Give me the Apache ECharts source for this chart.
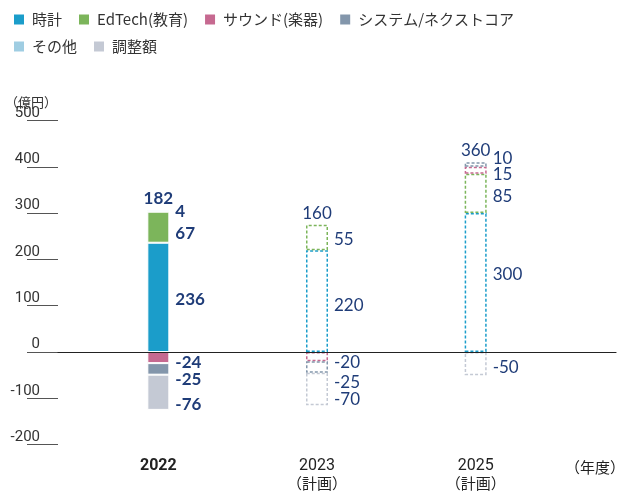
<!DOCTYPE html>
<html>
<head>
<meta charset="utf-8">
<script src="https://cdn.jsdelivr.net/npm/echarts@6/dist/echarts.min.js"></script>
<style>
  html, body { margin: 0; padding: 0; background: #fff; }
  #chart { width: 630px; height: 497px; }
</style>
</head>
<body>
<div id="chart"></div>
<script>
// Fiscal years and their axis labels
var years = ['2022', '2023', '2025'];
var yearLabels = ['2022', '2023\n（計画）', '2025\n（計画）'];
var planned = [false, true, true];

// Segment values (億円)
var watch  = [236, 220, 300];
var edtech = [67, 55, 85];
var sound  = [-24, -20, 15];
var system = [-25, -25, 10];
var other  = [4, '-', '-'];
var adjust = [-76, -70, -50];
var totals = [182, 160, 360];

// Value-axis ticks
var yTicks = [-200, -100, 0, 100, 200, 300, 400, 500];

var segments = [
  { name: '時計',                  data: watch,  color: '#1b9dca', dy: [2, 4, -8] },
  { name: 'EdTech(教育)',          data: edtech, color: '#7cb55b', dy: [6, 2, 3] },
  { name: 'サウンド(楽器)',        data: sound,  color: '#c66990', dy: [5, 6, 4] },
  { name: 'システム/ネクストコア', data: system, color: '#8396ab', dy: [11, 15, -6] },
  { name: 'その他',                data: other,  color: '#9fcde2', dy: [1, 0, 0] },
  { name: '調整額',                data: adjust, color: '#c4c9d4', dy: [12, 10, 4] }
];

var NAVY = '#1f3c78';
var FONT = 'Lato, "Noto Sans CJK JP", sans-serif';
var JP = '"Noto Sans CJK JP", sans-serif';

var series = segments.map(function (s) {
  return {
    name: s.name,
    type: 'bar',
    stack: 'total',
    xAxisIndex: 0,
    yAxisIndex: 0,
    barWidth: 22,
    itemStyle: { color: s.color },
    data: s.data.map(function (v, i) {
      var item = {
        value: v,
        label: {
          offset: [0, s.dy[i]],
          fontWeight: planned[i] ? 'normal' : 'bold'
        }
      };
      if (planned[i]) {
        item.itemStyle = {
          color: 'rgba(255,255,255,0)',
          borderColor: s.color,
          borderWidth: 1.5,
          borderType: [3, 2]
        };
      } else {
        item.itemStyle = { color: s.color, borderColor: '#fff', borderWidth: 1 };
      }
      return item;
    }),
    label: {
      show: true,
      position: 'right',
      distance: 6,
      color: NAVY,
      fontSize: 17,
      fontFamily: FONT,
      formatter: function (p) { return String(p.value); }
    }
  };
});

// Zero-height bar stacked on the positive side, carrying the total label
series.push({
  name: '合計',
  type: 'bar',
  stack: 'total',
  stackStrategy: 'positive',
  xAxisIndex: 0,
  yAxisIndex: 0,
  barWidth: 22,
  itemStyle: { color: 'rgba(0,0,0,0)' },
  data: totals.map(function (t, i) {
    return { value: 0, label: { fontWeight: planned[i] ? 'normal' : 'bold' } };
  }),
  label: {
    show: true,
    position: 'top',
    distance: 3,
    color: NAVY,
    fontSize: 17,
    fontFamily: FONT,
    formatter: function (p) { return String(totals[p.dataIndex]); }
  }
});

var legendText = { fontSize: 15, color: '#333', fontFamily: JP, padding: [0, 0, 0, 3] };

var option = {
  animation: false,
  backgroundColor: '#fff',
  title: [
    { text: '（億円）', left: 0, top: 91, textStyle: { fontSize: 13, fontWeight: 'normal', color: '#333', fontFamily: JP } },
    { text: '（年度）', left: 560, top: 455, textStyle: { fontSize: 15, fontWeight: 'normal', color: '#222', fontFamily: JP } }
  ],
  legend: [
    {
      data: segments.slice(0, 4).map(function (s) { return s.name; }),
      left: 9, top: 7, itemWidth: 10, itemHeight: 10, itemGap: 17,
      icon: 'rect', textStyle: legendText
    },
    {
      data: segments.slice(4).map(function (s) { return s.name; }),
      left: 9, top: 34, itemWidth: 10, itemHeight: 10, itemGap: 17,
      icon: 'rect', textStyle: legendText
    }
  ],
  grid: [
    { left: 79, right: 75, top: 120.5, bottom: 52.4 },
    { left: 58, right: 14, top: 120.5, bottom: 52.4 }
  ],
  xAxis: [
    {
      type: 'category',
      gridIndex: 0,
      data: years,
      axisLine: { show: false },
      axisTick: { show: false },
      axisLabel: {
        margin: 12,
        fontFamily: JP,
        formatter: function (v, i) {
          var lines = yearLabels[i].split('\n');
          var st = planned[i] ? 'p' : 'a';
          return lines.map(function (l, k) { return '{' + (k ? 'n' : st) + '|' + l + '}'; }).join('\n');
        },
        rich: {
          a: { fontSize: 16, fontWeight: 'bold', color: '#222', lineHeight: 18, fontFamily: 'Roboto, sans-serif' },
          p: { fontSize: 16, color: '#222', lineHeight: 18, fontFamily: 'Roboto, sans-serif' },
          n: { fontSize: 15, color: '#222', lineHeight: 18, fontFamily: JP }
        }
      }
    },
    {
      type: 'value',
      gridIndex: 1,
      min: 0, max: 1,
      z: 10,
      axisLine: { show: true, onZero: true, lineStyle: { color: '#222', width: 1.2 } },
      axisTick: { show: false },
      axisLabel: { show: false },
      splitLine: { show: false }
    }
  ],
  yAxis: [
    {
      type: 'value',
      gridIndex: 0,
      min: yTicks[0], max: yTicks[yTicks.length - 1], interval: 100,
      show: false
    },
    {
      type: 'value',
      gridIndex: 1,
      min: yTicks[0], max: yTicks[yTicks.length - 1], interval: 100,
      offset: 17,
      axisLine: { show: false },
      splitLine: { show: false },
      axisTick: { show: true, length: 31, lineStyle: { color: '#555', width: 1 } },
      axisLabel: {
        margin: 1,
        align: 'right',
        verticalAlign: 'bottom',
        fontSize: 15,
        color: '#333',
        fontFamily: 'Roboto, sans-serif'
      }
    }
  ],
  series: series
};

var chart = echarts.init(document.getElementById('chart'), null, { renderer: 'canvas' });
chart.setOption(option);
</script>
</body>
</html>
